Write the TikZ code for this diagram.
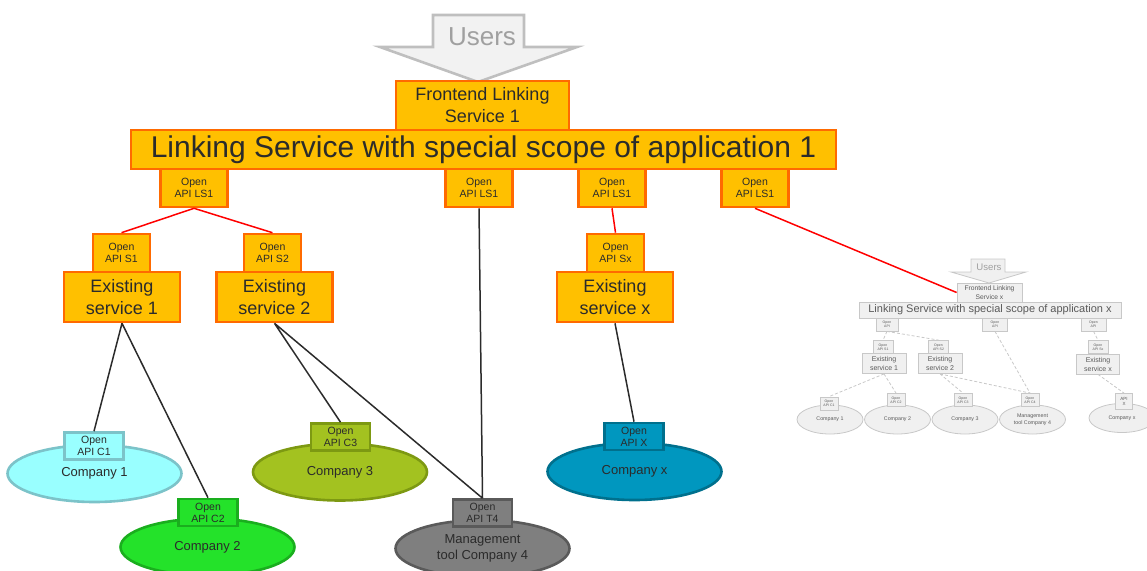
\documentclass[tikz,border=0pt]{standalone}
\usepackage{fontspec}
\setmainfont{Liberation Sans}
\usepackage{xcolor}
\usetikzlibrary{
    shapes.geometric,
    positioning
}
\definecolor{svcfill}{HTML}{FFC000}
\definecolor{svcline}{HTML}{FF6A00}
\definecolor{txtgray}{HTML}{2B2B2B}
\definecolor{usrfill}{HTML}{F2F2F2}
\definecolor{usrline}{HTML}{BFBFBF}
\definecolor{usrtext}{HTML}{A0A0A0}
\definecolor{minifill}{HTML}{F0F0F0}
\definecolor{miniline}{HTML}{C8C8C8}
\definecolor{minitext}{HTML}{5A5A5A}
\definecolor{cyanfill}{HTML}{99FFFF}
\definecolor{cyanline}{HTML}{7CC3C9}
\definecolor{grnfill}{HTML}{24E22A}
\definecolor{grnline}{HTML}{1AAE1E}
\definecolor{olvfill}{HTML}{A3C220}
\definecolor{olvline}{HTML}{7D9912}
\definecolor{gryfill}{HTML}{7F7F7F}
\definecolor{gryline}{HTML}{5A5A5A}
\definecolor{bluefill}{HTML}{0097BF}
\definecolor{blueline}{HTML}{00708D}
\tikzset{svc/.style={draw=svcline, fill=svcfill, line width=2.6pt, inner sep=0pt, align=center, text=txtgray}}
\tikzset{apibox/.style={svc, minimum width=67, minimum height=38, font=\fontsize{10.5}{12}\selectfont}}
\tikzset{exist/.style={svc, minimum width=116, minimum height=50, font=\fontsize{18}{22}\selectfont}}
\tikzset{comp/.style 2 args={ellipse, draw=#1, fill=#2, line width=2.6pt, inner sep=0pt, minimum width=174, minimum height=57, align=center, text=txtgray, font=\fontsize{13}{16}\selectfont}}
\tikzset{cbox/.style 2 args={draw=#1, fill=#2, line width=2.6pt, inner sep=0pt, minimum width=59, minimum height=27, align=center, text=txtgray, font=\fontsize{10.5}{12}\selectfont}}
\tikzset{mini/.style={draw=miniline, fill=minifill, line width=0.8pt, inner sep=0pt, align=center, text=minitext}}
\tikzset{miniapi/.style={mini, minimum width=20, minimum height=13, font=\fontsize{3.5}{4}\selectfont}}
\tikzset{minicomp/.style={mini, ellipse, minimum width=66, minimum height=29, font=\fontsize{5.3}{6.5}\selectfont}}
\tikzset{redl/.style={draw=red, line width=1.5pt}}
\tikzset{blkl/.style={draw=txtgray, line width=1.5pt}}
\tikzset{minil/.style={draw=miniline, line width=0.8pt, densely dashed}}

\begin{document}
\begin{tikzpicture}[x=1pt, y=-1pt]
    \useasboundingbox (0,0) rectangle (1147,570);

    % users arrow
    \draw[draw=usrline, fill=usrfill, line width=2.6pt, line join=miter]
        (433,15) -- (524,15) -- (524,47) -- (577,47) -- (478,82) -- (380,47) -- (433,47) -- cycle;
    \node[text=usrtext, font=\fontsize{26}{30}\selectfont] (users) at (482,37) {Users};

    \node[svc, minimum width=173, minimum height=49, font=\fontsize{18}{22}\selectfont] (front) at (482.5,105.5) {Frontend Linking\\Service 1};
    \node[svc, minimum width=705, minimum height=39, font=\fontsize{30}{36}\selectfont] (ls) at (483.5,149.5) {Linking Service with special scope of application 1};

    \node[apibox] (lsa) at (194,188) {Open\\API LS1};
    \node[apibox] (lsb) at (479,188) {Open\\API LS1};
    \node[apibox] (lsc) at (612,188) {Open\\API LS1};
    \node[apibox] (lsd) at (755,188) {Open\\API LS1};

    % existing services
    \node[apibox, minimum width=57] (s1) at (121.5,253) {Open\\API S1};
    \node[apibox, minimum width=57] (s2) at (272.5,253) {Open\\API S2};
    \node[apibox, minimum width=57] (sx) at (615.5,253) {Open\\API Sx};
    \node[exist] (es1) at (122,297) {Existing\\service 1};
    \node[exist] (es2) at (274.5,297) {Existing\\service 2};
    \node[exist] (esx) at (615,297) {Existing\\service x};

    % companies
    \node[comp={cyanline}{cyanfill}] (co1) at (94.5,473.5) {Company 1};
    \node[cbox={cyanline}{cyanfill}] (c1) at (94,446) {Open\\API C1};
    \node[comp={olvline}{olvfill}] (co3) at (340,472) {Company 3};
    \node[cbox={olvline}{olvfill}] (c3) at (340.5,437) {Open\\API C3};
    \node[comp={blueline}{bluefill}] (cox) at (634.5,471.5) {Company x};
    \node[cbox={blueline}{bluefill}] (cx) at (634,436.5) {Open\\API X};
    \node[comp={grnline}{grnfill}] (co2) at (207.5,547) {Company 2};
    \node[cbox={grnline}{grnfill}] (c2) at (208,512.5) {Open\\API C2};
    \node[comp={gryline}{gryfill}] (co4) at (482.5,548.5) {Management\\tool Company 4};
    \node[cbox={gryline}{gryfill}] (c4) at (482.5,513) {Open\\API T4};

    \draw[redl]
    (lsa.south) -- (s1.north)
    (lsa.south) -- (s2.north)
    (lsc.south) -- (sx.north);
    \draw[blkl]
    (es1.south) -- (c1.north)
    (es1.south) -- (c2.north)
    (es2.south) -- (c3.north)
    (es2.south) -- (c4.north)
    (lsb.south) -- (c4.north)
    (esx.south) -- (cx.north);

    % linking service x (small copy)
    \draw[draw=miniline, fill=minifill, line width=0.8pt]
        (971,259) -- (1005,259) -- (1005,272) -- (1026,272) -- (989,283) -- (951,272) -- (971,272) -- cycle;
    \node[text=usrtext, font=\fontsize{9.6}{11}\selectfont] (usersx) at (989,267) {Users};
    \node[mini, minimum width=65, minimum height=19, font=\fontsize{6.7}{8.5}\selectfont] (frontx) at (989.5,292.5) {Frontend Linking\\Service x};
    \node[mini, minimum width=262, minimum height=16, font=\fontsize{11}{13}\selectfont] (lsx) at (990,310) {Linking Service with special scope of application x};
    \node[miniapi, minimum width=22] (mla) at (887,324.5) {Open\\API};
    \node[miniapi, minimum width=25] (mlb) at (995,324.5) {Open\\API};
    \node[miniapi, minimum width=25] (mlc) at (1093.5,324.5) {Open\\API};
    \node[miniapi] (ms1) at (883,347) {Open\\API S1};
    \node[miniapi] (ms2) at (938.5,347) {Open\\API S2};
    \node[miniapi] (msx) at (1098,347) {Open\\API Sx};
    \node[mini, minimum width=44, minimum height=20, font=\fontsize{7}{9}\selectfont] (mes1) at (884,363.5) {Existing\\service 1};
    \node[mini, minimum width=44, minimum height=20, font=\fontsize{7}{9}\selectfont] (mes2) at (940,363.5) {Existing\\service 2};
    \node[mini, minimum width=43, minimum height=20, font=\fontsize{7}{9}\selectfont] (mesx) at (1098,364) {Existing\\service x};
    \node[minicomp] (mco1) at (830,419.5) {Company 1};
    \node[minicomp] (mco2) at (897.5,419.5) {Company 2};
    \node[minicomp] (mco3) at (965,419.5) {Company 3};
    \node[minicomp] (mco4) at (1032.5,419.5) {Management\\tool Company 4};
    \node[minicomp] (mcox) at (1122,418) {Company x};
    \node[miniapi, minimum width=18] (mc1) at (829,403.5) {Open\\API C1};
    \node[miniapi, minimum width=18] (mc2) at (896,400) {Open\\API C2};
    \node[miniapi, minimum width=18] (mc3) at (963,400) {Open\\API C3};
    \node[miniapi, minimum width=18] (mc4) at (1030,400) {Open\\API C4};
    \node[miniapi, minimum width=17, minimum height=16, font=\fontsize{4.5}{5.5}\selectfont] (mcx) at (1124,401.5) {API\\X};

    \draw[minil]
    (mla.south) -- (ms1.north)
    (mla.south) -- (ms2.north)
    (mlb.south) -- (mc4.north)
    (mlc.south) -- (msx.north)
    (mes1.south) -- (mc1.north)
    (mes1.south) -- (mc2.north)
    (mes2.south) -- (mc3.north)
    (mes2.south) -- (mc4.north)
    (mesx.south) -- (mcx.north);

    \draw[redl] (lsd.south) -- (frontx.west);
\end{tikzpicture}
\end{document}
